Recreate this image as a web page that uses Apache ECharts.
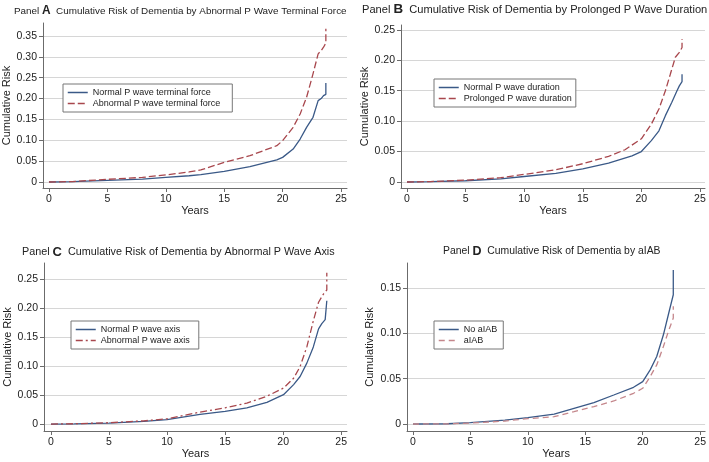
<!DOCTYPE html>
<html>
<head>
<meta charset="utf-8">
<script src="https://cdn.jsdelivr.net/npm/echarts@6/dist/echarts.min.js"></script>
<style>html,body{margin:0;padding:0;background:#fff;}#c{width:709px;height:462px;}</style>
</head>
<body>
<div id="c"></div>
<script>
// ---- Data ----
const xTicks = [0, 5, 10, 15, 20, 25];
const yTicksA = [0, 0.05, 0.10, 0.15, 0.20, 0.25, 0.30, 0.35];
const yTicksB = [0, 0.05, 0.10, 0.15, 0.20, 0.25];
const yTicksC = [0, 0.05, 0.10, 0.15, 0.20, 0.25];
const yTicksD = [0, 0.05, 0.10, 0.15];

const aT = [0, 2, 5, 8, 10, 12, 13, 15, 17.2, 19.5, 20, 20.9, 21.5, 22.05, 22.6, 23.04, 23.3, 23.5, 23.7, 23.7];
const aNormal = [0, 0.0008, 0.004, 0.007, 0.011, 0.015, 0.0176, 0.0256, 0.037, 0.053, 0.059, 0.079, 0.103, 0.131, 0.155, 0.195, 0.200, 0.207, 0.210, 0.237];
const aAbnormal = [0, 0.001, 0.0064, 0.011, 0.017, 0.024, 0.029, 0.047, 0.063, 0.087, 0.099, 0.131, 0.163, 0.203, 0.259, 0.307, 0.315, 0.323, 0.333, 0.367];

const bNormalT = [0, 2, 5, 8, 10, 12.7, 15, 17.2, 19.2, 20, 20.85, 21.5, 22.05, 22.6, 23.04, 23.24, 23.47, 23.47];
const bNormal = [0, 0.0005, 0.002, 0.005, 0.009, 0.014, 0.0214, 0.031, 0.043, 0.050, 0.068, 0.084, 0.109, 0.131, 0.150, 0.158, 0.165, 0.177];
const bProlongedT = [0, 2, 5, 8, 10, 12.7, 15, 17.2, 18.6, 20, 20.85, 21.5, 22.05, 22.47, 22.9, 23.24, 23.47, 23.47];
const bProlonged = [0, 0.0006, 0.003, 0.007, 0.0125, 0.020, 0.030, 0.042, 0.053, 0.071, 0.095, 0.120, 0.150, 0.177, 0.205, 0.213, 0.221, 0.235];

const cNormalT = [0, 2, 5, 8, 10, 12.84, 15, 16.87, 18.6, 20.03, 20.9, 21.46, 22.04, 22.6, 23.05, 23.33, 23.62, 23.76, 23.76];
const cNormal = [0, 0.0004, 0.0017, 0.0045, 0.0075, 0.0165, 0.022, 0.028, 0.0375, 0.0506, 0.068, 0.082, 0.105, 0.133, 0.164, 0.173, 0.180, 0.182, 0.2125];
const cAbnormalT = [0, 2, 5, 8, 10, 12.84, 15, 16.87, 18.6, 20.03, 20.9, 21.46, 22.04, 22.6, 23.05, 23.47, 23.76, 23.76];
const cAbnormal = [0, 0.0005, 0.0023, 0.0055, 0.009, 0.0205, 0.028, 0.036, 0.048, 0.062, 0.079, 0.099, 0.133, 0.178, 0.210, 0.224, 0.231, 0.261];

const dT = [0, 3, 5, 8, 10, 12.29, 14.02, 15.75, 17.48, 19.2, 20, 20.65, 21.22, 21.8, 22.23, 22.66, 22.66];
const dNoIAB = [0, 0.0003, 0.0015, 0.0044, 0.007, 0.011, 0.0173, 0.0236, 0.032, 0.0405, 0.0468, 0.0597, 0.0744, 0.0984, 0.1205, 0.1426, 0.170];
const dIAB = [0, 0.0002, 0.001, 0.0033, 0.0059, 0.0081, 0.0136, 0.0192, 0.0254, 0.0339, 0.0394, 0.0523, 0.0652, 0.0855, 0.102, 0.117, 0.130];

// ---- Building ----
const pairs = (t, v) => t.map((x, i) => [x, v[i]]);
const FONT = 'Liberation Sans, Arial, sans-serif';
const NAVY = '#3a5987';
const MAROON = '#a8474d';
const fmtY = v => (v === 0 ? '0' : v.toFixed(2));

const panels = [
  { letter: 'A', title: 'Cumulative Risk of Dementia by Abnormal P Wave Terminal Force', tl: 14, tt: 5, tf: 9.9,
    grid: { left: 43, top: 23, width: 304, height: 165 }, x: [-0.51, 25.51], y: [-0.0144, 0.381], yTicks: yTicksA, yGap: 28.5,
    legend: { left: 63, top: 84, pr: 12 },
    s: [ { name: 'Normal P wave terminal force', d: pairs(aT, aNormal), c: NAVY, dash: 'solid' },
         { name: 'Abnormal P wave terminal force', d: pairs(aT, aAbnormal), c: MAROON, dash: [7, 3] } ] },
  { letter: 'B', title: 'Cumulative Risk of Dementia by Prolonged P Wave Duration', tl: 362, tt: 3, tf: 11.1,
    grid: { left: 401, top: 25, width: 304, height: 163 }, x: [-0.51, 25.43], y: [-0.0099, 0.258], yTicks: yTicksB, yGap: 27.5,
    legend: { left: 434, top: 79, pr: 4 },
    s: [ { name: 'Normal P wave duration', d: pairs(bNormalT, bNormal), c: NAVY, dash: 'solid' },
         { name: 'Prolonged P wave duration', d: pairs(bProlongedT, bProlonged), c: MAROON, dash: [7, 3] } ] },
  { letter: 'C', title: 'Cumulative Risk of Dementia by Abnormal P Wave Axis', tl: 22, tt: 246, tf: 10.8,
    grid: { left: 44, top: 263, width: 303, height: 168 }, x: [-0.6, 25.5], y: [-0.012, 0.2776], yTicks: yTicksC, yGap: 28.5,
    legend: { left: 71, top: 321, pr: 9 },
    s: [ { name: 'Normal P wave axis', d: pairs(cNormalT, cNormal), c: NAVY, dash: 'solid' },
         { name: 'Abnormal P wave axis', d: pairs(cAbnormalT, cAbnormal), c: MAROON, dash: [7, 3, 2, 3] } ] },
  { letter: 'D', title: 'Cumulative Risk of Dementia by aIAB', tl: 443, tt: 245.5, tf: 10.4,
    grid: { left: 407, top: 263, width: 300, height: 168 }, x: [-0.52, 25.43], y: [-0.0077, 0.1776], yTicks: yTicksD, yGap: 32,
    legend: { left: 434, top: 321, pr: 6 },
    s: [ { name: 'No aIAB', d: pairs(dT, dNoIAB), c: NAVY, dash: 'solid' },
         { name: 'aIAB', d: pairs(dT, dIAB), c: '#c4868b', dash: [6, 4] } ] }
];

const option = { animation: false, backgroundColor: '#fff', title: [], grid: [], xAxis: [], yAxis: [], legend: [], series: [] };
const axisCol = '#6b6b6b';
panels.forEach((p, i) => {
  option.title.push({
    text: '{n|Panel }{b|' + p.letter + '}{n|  ' + p.title + '}',
    left: p.tl, top: p.tt, padding: 0,
    textStyle: { fontWeight: 'normal', rich: {
      n: { fontFamily: FONT, fontSize: p.tf, fontWeight: 'normal', color: '#222' },
      b: { fontFamily: FONT, fontSize: p.tf * 1.2, fontWeight: 'bold', color: '#222' } } }
  });
  option.grid.push(Object.assign({ containLabel: false }, p.grid));
  option.xAxis.push({
    type: 'value', gridIndex: i, min: p.x[0], max: p.x[1],
    name: 'Years', nameLocation: 'middle', nameGap: 12,
    nameTextStyle: { fontFamily: FONT, fontSize: 11, color: '#222' },
    axisLine: { onZero: false, lineStyle: { color: axisCol, width: 1 } },
    axisTick: { show: true, length: 4, customValues: xTicks, lineStyle: { color: axisCol } },
    axisLabel: { customValues: xTicks, margin: 6, fontFamily: FONT, fontSize: 10.5, color: '#222' },
    splitLine: { show: false }
  });
  option.yAxis.push({
    type: 'value', gridIndex: i, min: p.y[0], max: p.y[1],
    name: 'Cumulative Risk', nameLocation: 'middle', nameGap: p.yGap,
    nameTextStyle: { fontFamily: FONT, fontSize: 11, color: '#222' },
    axisLine: { show: true, onZero: false, lineStyle: { color: axisCol, width: 1 } },
    axisTick: { show: true, length: 4, customValues: p.yTicks, lineStyle: { color: axisCol } },
    axisLabel: { customValues: p.yTicks, margin: 6, fontFamily: FONT, fontSize: 10.5, color: '#222', formatter: fmtY },
    splitLine: { show: true, lineStyle: { color: '#d6d6d6', width: 1.2 } }
  });
  option.legend.push({
    orient: 'vertical', left: p.legend.left, top: p.legend.top,
    padding: [4, p.legend.pr, 4, 4], itemGap: 2, itemWidth: 20, itemHeight: 11, itemTextGap: 6,
    backgroundColor: '#fff', borderColor: '#777', borderWidth: 1, borderRadius: 0,
    itemStyle: { opacity: 0 },
    textStyle: { fontFamily: FONT, fontSize: 9, color: '#222' },
    data: p.s.map(s => ({ name: s.name, lineStyle: { color: s.c, width: 1.5, type: s.dash, opacity: 1 } }))
  });
  p.s.forEach(s => {
    option.series.push({
      type: 'line', name: s.name, xAxisIndex: i, yAxisIndex: i, data: s.d,
      showSymbol: false, symbol: 'none', smooth: false,
      lineStyle: { color: s.c, width: 1.3, type: s.dash }, itemStyle: { color: s.c }
    });
  });
});

const chart = echarts.init(document.getElementById('c'), null, { renderer: 'canvas' });
chart.setOption(option);
</script>
</body>
</html>
